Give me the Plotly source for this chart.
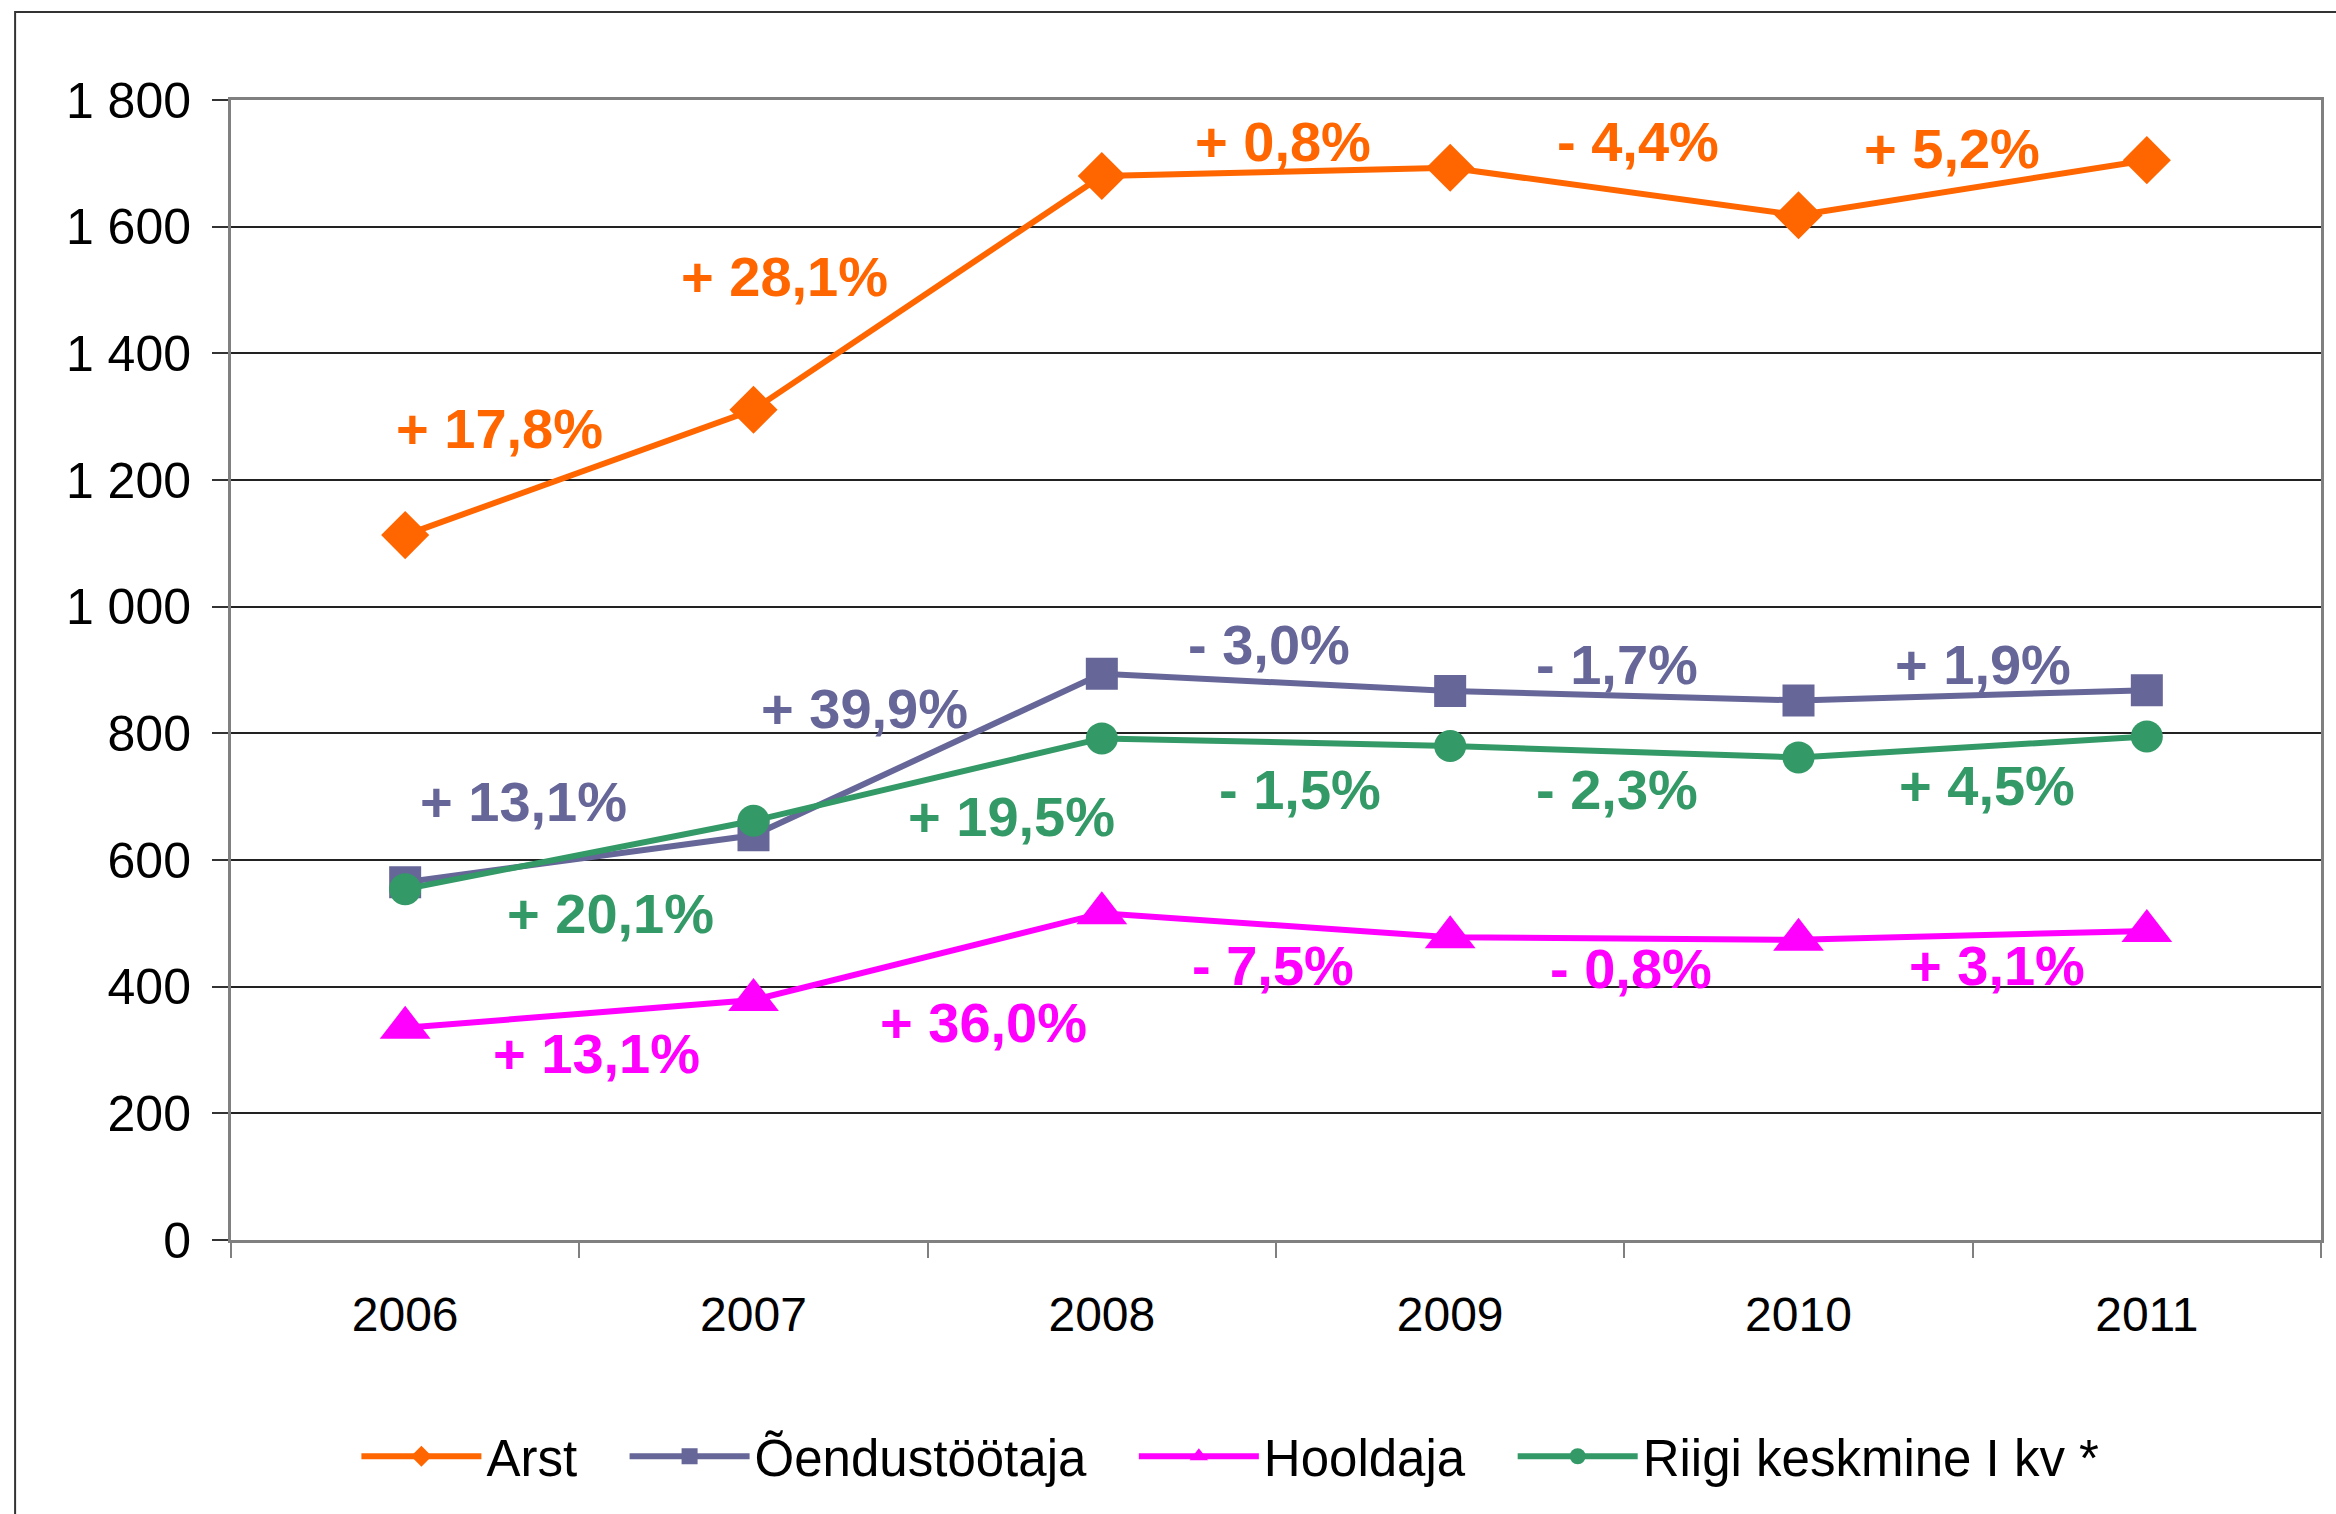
import plotly.graph_objects as go

FONT = "Arial, 'Liberation Sans', sans-serif"

years = ["2006", "2007", "2008", "2009", "2010", "2011"]

arst = [1113, 1311, 1680, 1693, 1618, 1705]
oendus = [565, 639, 894, 867, 852, 868]
hooldaja = [335, 379, 516, 478, 474, 488]
riigi = [554, 662, 792, 780, 762, 795]

arst_chg = ["+ 17,8%", "+ 28,1%", "+ 0,8%", "- 4,4%", "+ 5,2%"]
oendus_chg = ["+ 13,1%", "+ 39,9%", "- 3,0%", "- 1,7%", "+ 1,9%"]
hooldaja_chg = ["+ 13,1%", "+ 36,0%", "- 7,5%", "- 0,8%", "+ 3,1%"]
riigi_chg = ["+ 20,1%", "+ 19,5%", "- 1,5%", "- 2,3%", "+ 4,5%"]

# where the change labels sit (category index, value)
arst_lbl = [(0.27, 1282), (1.09, 1521), (2.52, 1734), (3.54, 1734), (4.44, 1723)]
oendus_lbl = [(0.34, 693), (1.32, 840), (2.48, 940), (3.48, 909), (4.53, 909)]
hooldaja_lbl = [(0.55, 295), (1.66, 344), (2.49, 434), (3.52, 429), (4.57, 434)]
riigi_lbl = [(0.59, 516), (1.74, 669), (2.57, 712), (3.48, 712), (4.54, 718)]

series = [
    ("Arst", arst, "#FF6600", "diamond", 37, arst_chg, arst_lbl),
    ("Õendustöötaja", oendus, "#666699", "square", 32, oendus_chg, oendus_lbl),
    ("Hooldaja", hooldaja, "#FF00FF", "triangle-up", 44, hooldaja_chg, hooldaja_lbl),
    ("Riigi keskmine I kv *", riigi, "#339966", "circle", 32, riigi_chg, riigi_lbl),
]

PAD = "\u00a0\u00a0\u00a0"  # extra room between legend entries

fig = go.Figure()
annotations = []
for name, vals, color, sym, size, chg, pos in series:
    fig.add_trace(go.Scatter(
        x=years, y=vals, name=name + PAD, mode="lines+markers",
        line=dict(color=color, width=6),
        marker=dict(symbol=sym, size=size, color=color),
    ))
    for txt, (px_, py_) in zip(chg, pos):
        annotations.append(dict(
            x=px_, y=py_, xref="x", yref="y", text=txt, showarrow=False,
            font=dict(family=FONT, size=56, color=color, weight="bold"),
        ))

fig.update_layout(
    width=2336, height=1514,
    margin=dict(l=231, r=13, t=100, b=274),
    paper_bgcolor="white", plot_bgcolor="white",
    font=dict(family=FONT, size=50, color="black"),
    separators=", ",
    annotations=annotations,
    showlegend=True,
    legend=dict(
        orientation="h", x=0.06, xanchor="left", y=-0.19, yanchor="middle",
        font=dict(size=51), itemwidth=120, bgcolor="rgba(0,0,0,0)",
    ),
    shapes=[dict(
        type="rect", xref="paper", yref="paper",
        x0=-0.1033, x1=1.05, y0=-0.3, y1=1.0772,
        line=dict(color="#333333", width=2), layer="below",
    )],
)

fig.update_xaxes(
    type="category", range=[-0.5, 5.5], tickson="boundaries",
    ticks="outside", ticklen=15, tickcolor="#808080", tickwidth=2,
    showline=True, linecolor="#808080", linewidth=3, mirror=True,
    showgrid=False, ticklabelstandoff=30,
    tickfont=dict(size=48),
)
fig.update_yaxes(
    range=[0, 1800], dtick=200, tick0=0, separatethousands=True,
    ticks="outside", ticklen=16, tickcolor="#333333", tickwidth=2,
    showline=True, linecolor="#808080", linewidth=3, mirror=True,
    showgrid=True, gridcolor="#222222", gridwidth=1.5,
    ticklabelstandoff=11, zeroline=False,
    tickfont=dict(size=50),
)

fig.write_html(
    "out.html",
    config={"displayModeBar": False},
    post_script="document.body.style.margin='0';",
)
